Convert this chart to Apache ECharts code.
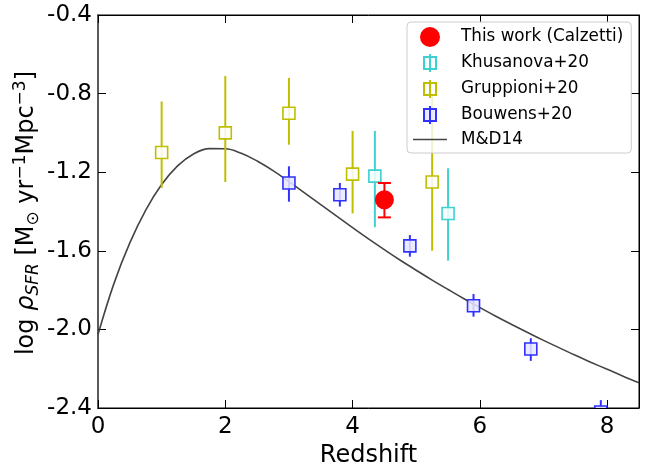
<!DOCTYPE html>
<html>
<head>
<meta charset="utf-8">
<script src="https://cdn.jsdelivr.net/npm/echarts@6/dist/echarts.min.js"></script>
<style>
html,body{margin:0;padding:0;background:#fff;}
#chart{width:645px;height:464px;}
</style>
</head>
<body>
<div id="chart"></div>
<script>
// ---- data ----
const gruppX  = [1.0, 2.0, 3.0, 4.0, 5.25];
const gruppY  = [-1.10, -1.00, -0.90, -1.21, -1.25];
const gruppLo = [-1.28, -1.25, -1.06, -1.41, -1.60];
const gruppHi = [-0.84, -0.71, -0.72, -0.99, -0.81];

const khusX  = [4.35, 5.5];
const khusY  = [-1.22, -1.41];
const khusLo = [-1.48, -1.65];
const khusHi = [-0.99, -1.18];

const thisX  = [4.5];
const thisY  = [-1.34];
const thisLo = [-1.43];
const thisHi = [-1.255];

const bouwX  = [3.0, 3.8, 4.9, 5.9, 6.8, 7.9];
const bouwY  = [-1.255, -1.315, -1.575, -1.88, -2.10, -2.42];
const bouwLo = [-1.35, -1.375, -1.63, -1.935, -2.16, -2.48];
const bouwHi = [-1.17, -1.255, -1.52, -1.82, -2.045, -2.36];

const mdZ = [0, 0.25, 0.5, 0.75, 1, 1.25, 1.5, 1.75, 2, 2.25, 2.5, 2.75, 3, 3.25, 3.5, 3.75, 4, 4.25, 4.5, 4.75, 5, 5.25, 5.5, 5.75, 6, 6.25, 6.5, 6.75, 7, 7.25, 7.5, 7.75, 8, 8.25, 8.5];
const mdY = [-2.026, -1.767, -1.560, -1.393, -1.263, -1.168, -1.107, -1.080, -1.081, -1.104, -1.143, -1.192, -1.248, -1.306, -1.365, -1.424, -1.482, -1.539, -1.594, -1.648, -1.699, -1.749, -1.797, -1.844, -1.889, -1.933, -1.975, -2.016, -2.056, -2.094, -2.132, -2.168, -2.203, -2.238, -2.271];

const xTicks = [0, 2, 4, 6, 8];
const yTicks = [-2.4, -2.0, -1.6, -1.2, -0.8, -0.4];

const names = ['This work (Calzetti)', 'Khusanova+20', 'Gruppioni+20', 'Bouwens+20', 'M&D14'];

// ---- styling ----
const FONT = 'DejaVu Sans';
const cRed = '#ff0000', cCyan = '#40d0d0', cYel = '#bfbf00', cBlue = '#3030ff', cCurve = '#444444';

function rows(xs, ys, lo, hi) { return xs.map((x, i) => [x, ys[i], lo[i], hi[i]]); }

function makeRender(kind, edge, fill, cap) {
  return function (params, api) {
    const x = api.value(0);
    const c = api.coord([x, api.value(1)]);
    const lo = api.coord([x, api.value(2)]);
    const hi = api.coord([x, api.value(3)]);
    const children = [{
      type: 'line', shape: { x1: lo[0], y1: lo[1], x2: hi[0], y2: hi[1] },
      style: { stroke: edge, lineWidth: 2 }
    }];
    if (cap) {
      [lo, hi].forEach(p => children.push({
        type: 'line', shape: { x1: p[0] - 6.5, y1: p[1], x2: p[0] + 6.5, y2: p[1] },
        style: { stroke: edge, lineWidth: 2 }
      }));
    }
    if (kind === 'circle') {
      children.push({ type: 'circle', shape: { cx: c[0], cy: c[1], r: 9.5 }, style: { fill: edge } });
    } else {
      children.push({
        type: 'rect', shape: { x: c[0] - 6, y: c[1] - 6, width: 12, height: 12 },
        style: { fill: fill, stroke: edge, lineWidth: 1.6 }
      });
    }
    return { type: 'group', children };
  };
}

function errSeries(name, data, kind, edge, fill, cap, z) {
  return {
    name, type: 'custom', data, clip: true, z,
    encode: { x: 0, y: [1, 2, 3] },
    itemStyle: { color: kind === 'circle' ? edge : fill, borderColor: edge, borderWidth: 1.6 },
    renderItem: makeRender(kind, edge, fill, cap)
  };
}

const sqIcon = 'path://M6,0V18M0,3H12V15H0Z';
const lineIcon = 'path://M0,0H34V1.6H0Z';

const chart = echarts.init(document.getElementById('chart'), null, { renderer: 'canvas' });

const tickStyle = { show: true, inside: true, length: 8, lineStyle: { color: '#000', width: 1 } };
function axisLine(color, width) { return { show: true, onZero: false, lineStyle: { color, width } }; }

chart.setOption({
  animation: false,
  backgroundColor: '#fff',
  grid: {
    left: 98, right: 6, top: 15, bottom: 56, containLabel: false, outerBoundsMode: 'none',
    show: true, borderColor: '#000', borderWidth: 1, backgroundColor: 'transparent'
  },
  xAxis: [
    {
      type: 'value', min: 0, max: 8.5, interval: 2, position: 'bottom',
      name: 'Redshift', nameLocation: 'middle', nameGap: 33,
      nameTextStyle: { fontFamily: FONT, fontSize: 24, color: '#000' },
      axisLine: axisLine('#000', 1), axisTick: tickStyle, splitLine: { show: false },
      axisLabel: {
        fontFamily: FONT, fontSize: 23, color: '#000', margin: 8,
        formatter: v => (xTicks.indexOf(v) >= 0 ? String(v) : '')
      }
    },
    {
      type: 'value', min: 0, max: 8.5, interval: 2, position: 'top',
      axisLine: axisLine('#000', 1), axisTick: tickStyle, splitLine: { show: false },
      axisLabel: { show: false }
    }
  ],
  yAxis: [
    {
      type: 'value', min: -2.4, max: -0.4, interval: 0.4, position: 'left',
      axisLine: axisLine('#5a5a5a', 2), axisTick: tickStyle, splitLine: { show: false },
      axisLabel: {
        fontFamily: FONT, fontSize: 23, color: '#000', margin: 6,
        formatter: v => (yTicks.some(t => Math.abs(t - v) < 1e-6) ? v.toFixed(1) : '')
      }
    },
    {
      type: 'value', min: -2.4, max: -0.4, interval: 0.4, position: 'right',
      axisLine: axisLine('#000', 1), axisTick: tickStyle, splitLine: { show: false },
      axisLabel: { show: false }
    }
  ],
  legend: {
    orient: 'vertical', left: 407, top: 22,
    padding: [5, 8, 5, 6], itemWidth: 34, itemHeight: 18, itemGap: 6,
    backgroundColor: 'rgba(255,255,255,0.8)', borderColor: '#cccccc', borderWidth: 1, borderRadius: 4,
    textStyle: { fontFamily: FONT, fontSize: 16.8, color: '#000', padding: [0, 0, 0, 9] },
    data: [
      { name: names[0], icon: 'circle' },
      { name: names[1], icon: sqIcon },
      { name: names[2], icon: sqIcon },
      { name: names[3], icon: sqIcon },
      { name: names[4], icon: lineIcon }
    ]
  },
  graphic: [{
    type: 'text', x: 27, y: 213, rotation: Math.PI / 2,
    style: {
      text: '{n|log }{g|ρ}{s|SFR}{n| [M}{o|⊙}{n| yr}{p|−1}{n|Mpc}{p|−3}{n|]}',
      align: 'center', verticalAlign: 'middle',
      rich: {
        n: { fontFamily: FONT, fontSize: 24, fill: '#000', lineHeight: 30 },
        g: { fontFamily: FONT, fontSize: 24, fontStyle: 'italic', fill: '#000', lineHeight: 30 },
        s: { fontFamily: FONT, fontSize: 17, fontStyle: 'italic', fill: '#000', lineHeight: 14, verticalAlign: 'bottom' },
        o: { fontFamily: FONT, fontSize: 17, fill: '#000', lineHeight: 14, verticalAlign: 'bottom' },
        p: { fontFamily: FONT, fontSize: 17, fill: '#000', lineHeight: 16, verticalAlign: 'top' }
      }
    }
  }],
  series: [
    {
      name: names[4], type: 'line', data: mdZ.map((z, i) => [z, mdY[i]]),
      symbol: 'none', showSymbol: false, smooth: 0.4, z: 2,
      lineStyle: { color: cCurve, width: 1.6 }, itemStyle: { color: cCurve }
    },
    errSeries(names[2], rows(gruppX, gruppY, gruppLo, gruppHi), 'rect', cYel, 'rgba(255,255,255,0.85)', false, 3),
    errSeries(names[1], rows(khusX, khusY, khusLo, khusHi), 'rect', cCyan, 'rgba(245,255,255,0.85)', false, 3),
    errSeries(names[3], rows(bouwX, bouwY, bouwLo, bouwHi), 'rect', cBlue, 'rgba(232,232,255,0.85)', false, 3),
    errSeries(names[0], rows(thisX, thisY, thisLo, thisHi), 'circle', cRed, cRed, true, 4)
  ]
});
</script>
</body>
</html>
